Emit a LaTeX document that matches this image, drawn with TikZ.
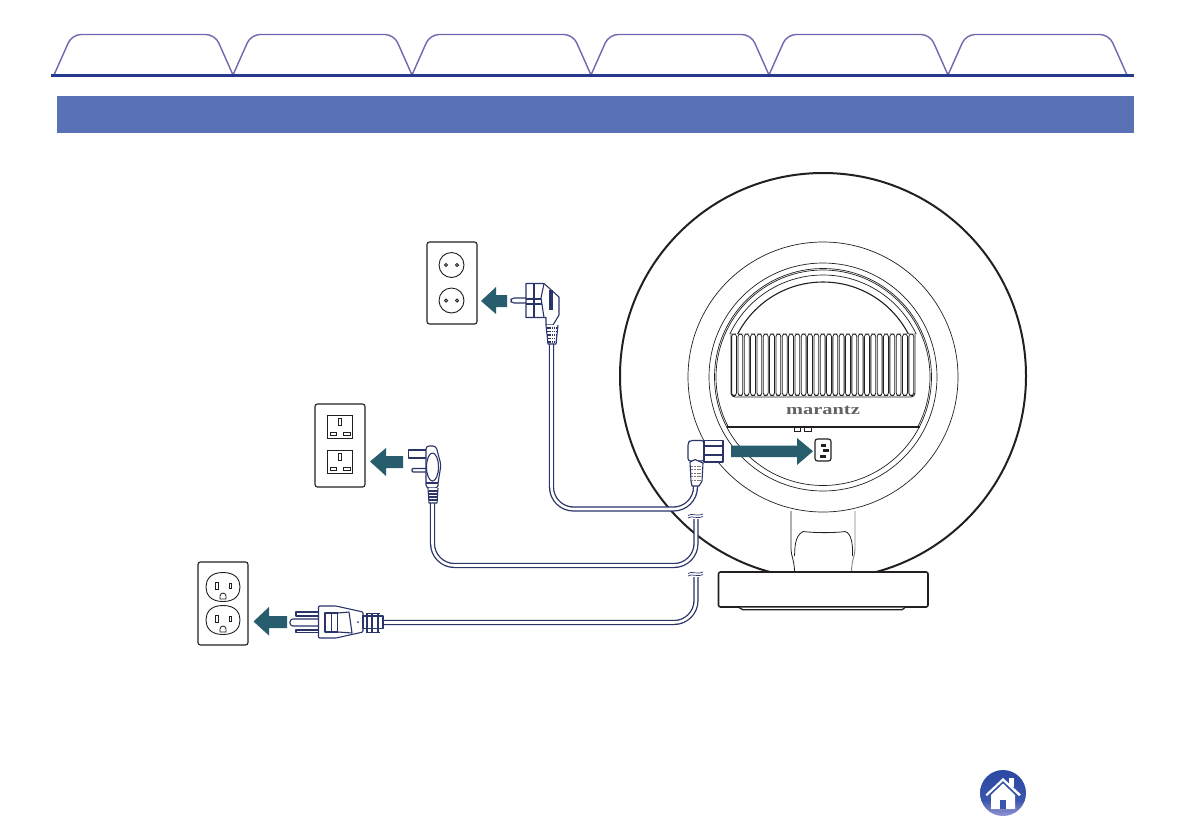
\documentclass[tikz,border=0pt]{standalone}
\usepackage{fontspec}
\newfontfamily\brandfont{Liberation Serif}
\definecolor{tabline}{HTML}{7068B0}
\definecolor{rulecol}{HTML}{27398C}
\definecolor{barcol}{HTML}{5872B5}
\definecolor{teal}{HTML}{275D6C}
\definecolor{navy}{HTML}{2A3468}
\definecolor{ink}{HTML}{231F20}
\definecolor{hometop}{HTML}{2A48A2}
\definecolor{homemid}{HTML}{3A55AC}
\definecolor{homelow}{HTML}{A09CD8}
\tikzset{
  tabshape/.style={draw=tabline,line width=1.4pt,rounded corners=9pt},
  thin ring/.style={draw=ink,line width=0.7pt},
  bold ring/.style={draw=ink,line width=2pt},
  plate/.style={draw=ink,line width=1.1pt,rounded corners=2.5pt,fill=white},
  fine/.style={draw=ink,line width=0.9pt},
  plugline/.style={draw=navy,line width=1.1pt,fill=white,line join=round},
  cable/.style={draw=navy,double=white,double distance=2.6pt,line width=1.3pt},
  movearrow/.style={fill=teal,draw=none},
  pinbar/.style={fill=ink,draw=none},
  brandtext/.style={text=ink!70,inner sep=0pt,font=\brandfont\bfseries\fontsize{15}{15}\selectfont}
}
\begin{document}
\begin{tikzpicture}[x=1pt,y=-1pt]
\useasboundingbox (0,0) rectangle (1191,839);
\fill[white] (0,0) rectangle (1191,839);
% tabs
\foreach \a/\b in {54/233,233/412,412/591,591/769,769/948,948/1127}{
  \draw[tabshape] (\a,75) -- (\a+18,34.5) -- (\b-18,34.5) -- (\b,75);
}
\draw[rulecol,line width=3.8pt] (51,75.5) -- (1134,75.5);
\fill[barcol] (57,96) rectangle (1134,133);
% speaker
\begin{scope}
  \clip (600,150) rectangle (1050,572);
  \draw[bold ring] (823,376) circle[radius=203pt];
\end{scope}
\draw[thin ring] (823,377) circle[radius=135pt];
\draw[thin ring] (823,377) circle[radius=114pt];
\draw[thin ring] (823,377) circle[radius=108.5pt];
\begin{scope}
  \clip (600,150) rectangle (1050,427);
  \draw[thin ring] (823,377) circle[radius=107pt];
\end{scope}
\begin{scope}
  \clip (600,150) rectangle (1050,333);
  \draw[thin ring] (823,378) circle[radius=103pt];
  \draw[draw=ink,line width=1.1pt] (823,378) circle[radius=96pt];
\end{scope}
% grille
\foreach \i in {0,...,28}{
  \draw[draw=ink,line width=0.8pt,rounded corners=2.6pt] (731.6+6.33*\i,334) rectangle ++(4.9,61.5);
}
\draw[draw=ink,line width=0.9pt,rounded corners=4pt] (731,333) -- (731,397) -- (915,397) -- (915,333);
\node[brandtext,xscale=1.36] (brand) at (823,410.5) {marantz};
% chord
\draw[draw=ink,line width=1.5pt] (727,427) -- (920,427);
\draw[fine,line width=0.5pt] (794,427) rectangle (800,431);
\draw[fine,line width=0.5pt] (804,427) rectangle (811,431);
% socket
\draw[draw=ink,line width=1.1pt,fill=white,rounded corners=2.5pt] (815,439) rectangle (831,461);
\fill[pinbar] (821,444) rectangle (826,446.5);
\fill[pinbar] (823,449) rectangle (829,452);
\fill[pinbar] (820,455) rectangle (826,457.5);
% stand
\draw[draw=ink,line width=0.8pt] (791,511) -- (791,549) .. controls (791,556) and (794.5,560) .. (794.5,572);
\draw[draw=ink!55,line width=0.9pt] (855,511) -- (855,549) .. controls (855,556) and (851.5,560) .. (851.5,572);
\draw[draw=ink,line width=0.8pt] (794.5,556) .. controls (795,550) and (794,536) .. (803,531.5)
  .. controls (815,533) and (835,533) .. (845,531.5) .. controls (852,533) and (853,547) .. (852.5,556);
% base
\draw[draw=ink,line width=1.6pt,fill=white,rounded corners=2pt] (718.5,572) rectangle (928,607);
\draw[draw=ink,line width=1.3pt,fill=white] (739,607.5) -- (743,609.8) -- (902,609.8) -- (905,607.5);
% cables
\coordinate (eurotail) at (551.5,343);
\coordinate (iectail) at (695.5,486);
\coordinate (uktail) at (432.5,503);
\coordinate (ukend) at (696,516);
\coordinate (ustail) at (383,622.5);
\coordinate (usend) at (696,575);
\draw[cable,rounded corners=22pt] (eurotail) -- (551.5,509) -- (695.5,509) -- (iectail);
\draw[cable,rounded corners=22pt] (uktail) -- (432.5,565.5) -- (696,565.5) -- (ukend);
\draw[cable,rounded corners=22pt] (ustail) -- (696,622.5) -- (usend);
% wave marks
\foreach \y in {514,572}{
  \fill[white] (688,\y) rectangle (703,\y+5);
  \draw[draw=navy,line width=0.7pt] (688,\y+1.5) .. controls (692,\y-1.5) and (696,\y+3) .. (703,\y);
  \draw[draw=navy,line width=0.7pt] (688,\y+4) .. controls (692,\y+1) and (696,\y+5.5) .. (703,\y+2.5);
}
% IEC plug
\draw[plugline,rounded corners=2.5pt] (704,440.5) -- (690,440.5) -- (688,443) -- (688,461) -- (704,461) -- cycle;
\draw[plugline] (704,440.5) rectangle (723,462);
\draw[plugline] (704,446) -- (723,446) (704,455) -- (723,455);
\draw[plugline] (690,462) -- (695,459.5) -- (703,463) -- (702,481) -- (699,486) -- (692,486) -- (691,481) -- cycle;
\foreach \y in {466,469.5,473,476.5,480}{
  \draw[draw=ink!60,line width=0.9pt,dash pattern=on 2pt off 0.8pt] (691,\y) -- (702,\y);
}
% move arrow to socket
\fill[movearrow] (731,445.5) -- (797,445.5) -- (797,438) -- (813,451.2) -- (797,465) -- (797,457) -- (731,457) -- cycle;
% Euro outlet
\draw[plate] (427,242) rectangle (477,324);
\foreach \y in {265,300.5}{
  \draw[fine] (451.5,\y) circle[radius=12.5pt];
  \draw[fine] (446,\y) circle[radius=1.6pt];
  \draw[fine] (457,\y) circle[radius=1.6pt];
}
\fill[movearrow] (481,301) -- (496,287) -- (496,295) -- (507,295) -- (507,307) -- (496,307) -- (496,314) -- cycle;
% Euro plug
\draw[plugline,rounded corners=2pt] (526,303) -- (512,303) -- (510,300.5) -- (512,298) -- (526,298);
\draw[plugline] (526,283.5) -- (544,283.5) -- (559,297) -- (559,315) -- (553,325) -- (546,325) -- (546,317.5) -- (526,317.5) -- cycle;
\draw[plugline] (534,283.5) -- (534,317.5);
\draw[plugline] (526,299) -- (543,299) (526,304) -- (543,304);
\draw[plugline] (544,283.5) -- (541,298) -- (544,317.5);
\fill[navy] (548.5,290) rectangle (553,310);
\draw[plugline] (546,325) -- (548,344) -- (556,344) -- (558,325);
\foreach \y in {328,331.5,335,338.5,342}{
  \draw[draw=navy,line width=1.1pt,dash pattern=on 1.5pt off 0.8pt] (547,\y) -- (557,\y);
}
% UK outlet
\draw[plate] (315,404) rectangle (365,487);
\foreach \y in {415,450}{
  \draw[draw=ink,line width=1pt] (327.5,\y) rectangle (352.5,\y+23);
  \draw[draw=ink,line width=0.9pt] (338.5,\y+3.5) rectangle (341.5,\y+10);
  \draw[draw=ink,line width=0.9pt] (330.5,\y+17) rectangle (336.5,\y+20.5);
  \draw[draw=ink,line width=0.9pt] (343.5,\y+17) rectangle (350.5,\y+20.5);
}
\fill[movearrow] (370,461.5) -- (386,448) -- (386,456) -- (403,456) -- (403,468) -- (386,468) -- (386,476) -- cycle;
% UK plug
\draw[plugline] (426,450) -- (408.5,450) -- (408.5,458) -- (426,458);
\draw[plugline,rounded corners=1pt] (426,468.5) -- (412,468.5) -- (412,472) -- (426,472);
\draw[plugline,rounded corners=3pt] (426,446) -- (436,446) -- (441,465) -- (438,483) -- (438,488) -- (426,488) -- cycle;
\draw[plugline] (432.5,467) ellipse[x radius=6pt,y radius=14pt];
\draw[plugline] (426,483) -- (438,483);
\draw[plugline] (428,488) -- (429,503) -- (437,503) -- (438,488);
\foreach \y in {491,494,497,500}{
  \draw[draw=navy,line width=1.1pt] (428.5,\y) -- (437.5,\y);
}
% US outlet
\draw[plate] (198,562) rectangle (248,645);
\foreach \y in {587,620}{
  \draw[fine] (223,\y-14.5) .. controls (236,\y-14.5) and (240,\y-7) .. (240,\y)
    .. controls (240,\y+7) and (236,\y+14.5) .. (223,\y+14.5)
    .. controls (210,\y+14.5) and (206,\y+7) .. (206,\y)
    .. controls (206,\y-7) and (210,\y-14.5) .. (223,\y-14.5) -- cycle;
  \draw[draw=ink,line width=1pt] (215.5,\y-5) rectangle (218,\y+2);
  \draw[draw=ink,line width=1pt] (229,\y-4) rectangle (231,\y+1);
  \draw[draw=ink,line width=0.8pt] (220,\y+12) -- (220,\y+9) arc[start angle=180,end angle=360,x radius=3pt,y radius=-3pt] -- (226,\y+12) -- cycle;
}
\fill[movearrow] (253.5,621.5) -- (269,607) -- (269,616) -- (287,616) -- (287,628) -- (269,628) -- (269,635.5) -- cycle;
% US plug
\draw[plugline] (318,612) -- (296,612) -- (296,616) -- (318,616);
\draw[plugline,rounded corners=3pt] (318,619) -- (290,619) -- (290,626) -- (318,626);
\draw[plugline] (318,630) -- (296,630) -- (296,632.5) -- (318,632.5);
\draw[plugline,rounded corners=1pt] (318.5,606) -- (336,606) -- (363,612) -- (363,632) -- (336,638) -- (318.5,638) -- cycle;
\draw[plugline] (325,613) rectangle (338,632) (331.5,613) -- (331.5,632);
\draw[plugline] (338,613) -- (349,612) -- (352,633) -- (338,632);
\fill[navy] (358,622) circle[radius=1pt];
\draw[plugline] (363,616) rectangle (383,628.5);
\foreach \x in {367,372,378}{
  \draw[draw=navy,line width=1.6pt] (\x,613) -- (\x,632);
}
\draw[draw=navy,line width=1pt] (366,613) -- (380,613) (366,632) -- (380,632);
% home button
\begin{scope}
  \clip (1003,793) circle[radius=23pt];
  \shade[top color=hometop,bottom color=homemid] (978,768) rectangle (1028,800);
  \shade[top color=homemid,bottom color=homelow] (978,800) rectangle (1028,818);
\end{scope}
\fill[white] (1009,778) rectangle (1014,787);
\fill[white] (985.5,794.5) -- (1003,778) -- (1021,794.5) -- (1019,796) -- (1003,781) -- (987,796) -- cycle;
\fill[white] (1003,783.5) -- (1015,795) -- (1015,809) -- (991,809) -- (991,795) -- cycle;
\fill[homemid] (1000,799.5) rectangle (1006,809);
\end{tikzpicture}
\end{document}
